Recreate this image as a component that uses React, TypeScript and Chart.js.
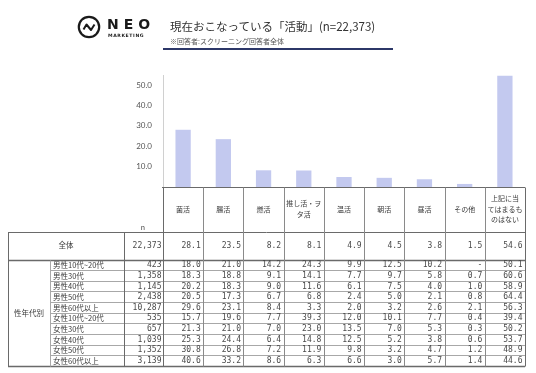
import React, { useEffect, useRef } from 'react';
import { Chart, registerables } from 'chart.js';
Chart.register(...registerables);

const categoryLabels: string[][] = [
  ['菌活'], ['腸活'], ['燃活'], ['推し活・ヲ', 'タ活'], ['温活'], ['朝活'], ['昼活'], ['その他'], ['上記に当', 'てはまるも', 'のはない'],
];
const totalLabel = '全体';
const totalN = 22373;
const totalValues = [28.1, 23.5, 8.2, 8.1, 4.9, 4.5, 3.8, 1.5, 54.6];
const groupLabel = '性年代別';
const rowLabels = ['男性10代~20代', '男性30代', '男性40代', '男性50代', '男性60代以上', '女性10代~20代', '女性30代', '女性40代', '女性50代', '女性60代以上'];
const rowN = [423, 1358, 1145, 2438, 10287, 535, 657, 1039, 1352, 3139];
const rowValues: (number | null)[][] = [
  [18.0, 21.0, 14.2, 24.3, 9.9, 12.5, 10.2, null, 50.1],
  [18.3, 18.8, 9.1, 14.1, 7.7, 9.7, 5.8, 0.7, 60.6],
  [20.2, 18.3, 9.0, 11.6, 6.1, 7.5, 4.0, 1.0, 58.9],
  [20.5, 17.3, 6.7, 6.8, 2.4, 5.0, 2.1, 0.8, 64.4],
  [29.6, 23.1, 8.4, 3.3, 2.0, 3.2, 2.6, 2.1, 56.3],
  [15.7, 19.6, 7.7, 39.3, 12.0, 10.1, 7.7, 0.4, 39.4],
  [21.3, 21.0, 7.0, 23.0, 13.5, 7.0, 5.3, 0.3, 50.2],
  [25.3, 24.4, 6.4, 14.8, 12.5, 5.2, 3.8, 0.6, 53.7],
  [30.8, 26.8, 7.2, 11.9, 9.8, 3.2, 4.7, 1.2, 48.9],
  [40.6, 33.2, 8.6, 6.3, 6.6, 3.0, 5.7, 1.4, 44.6],
];
const nHeader = 'n';
const titleText = '現在おこなっている「活動」(n=22,373)';
const subtitleText = '※回答者:スクリーニング回答者全体';

const FONT = '"Noto Sans CJK JP", "Noto Sans", sans-serif';
const NUMFONT = '"DejaVu Sans Mono", "Liberation Mono", monospace';
const fmtN = (n: number) => n.toLocaleString('en-US');
const fmtV = (v: number | null) => (v === null ? '-' : v.toFixed(1));

const tablePlugin = {
  id: 'tablePlugin',
  afterDraw(chart: any) {
    const ctx: CanvasRenderingContext2D = chart.ctx;
    const xs = chart.scales.x;
    const area = chart.chartArea;
    const nCat = categoryLabels.length;
    const colW = (area.right - area.left) / nCat;
    const edges: number[] = [];
    for (let i = 0; i < nCat; i++) edges.push(xs.getPixelForValue(i) - colW / 2);
    edges.push(xs.getPixelForValue(nCat - 1) + colW / 2);

    const tableLeft = 8;
    const groupRight = 50;
    const labelRight = 124;
    const headerTop = Math.round(area.bottom) + 0.5;
    const headerBot = headerTop + 44;
    const totalBot = headerBot + 28;
    const rowH = 10.65;
    const tableBot = totalBot + rowH * rowLabels.length;
    const right = edges[nCat];

    ctx.save();
    const line = (x1: number, y1: number, x2: number, y2: number, color: string, w = 1) => {
      ctx.beginPath();
      ctx.strokeStyle = color;
      ctx.lineWidth = w;
      ctx.moveTo(x1, y1);
      ctx.lineTo(x2, y2);
      ctx.stroke();
    };
    const dark = '#6a6a6a';
    const light = '#a8a8a8';
    const r = (v: number) => Math.round(v) + 0.5;

    line(edges[0] - 1, headerTop, right, headerTop, dark);
    line(tableLeft, r(headerBot), right, r(headerBot), dark);
    line(tableLeft, r(totalBot), right, r(totalBot), dark, 1.6);
    for (let i = 1; i < rowLabels.length; i++) {
      const y = r(totalBot + rowH * i);
      line(groupRight, y, right, y, light);
    }
    line(tableLeft, r(tableBot), right, r(tableBot), dark, 1.4);

    for (let i = 0; i <= nCat; i++) {
      const x = r(edges[i]);
      line(x, headerTop, x, r(tableBot), i === 0 || i === nCat ? dark : '#8a8a8a');
    }
    line(r(tableLeft), r(headerBot), r(tableLeft), r(tableBot), dark);
    line(r(labelRight), r(headerBot), r(labelRight), r(tableBot), dark);
    line(r(groupRight), r(totalBot), r(groupRight), r(tableBot), light);

    ctx.fillStyle = '#3a3a3a';
    ctx.textBaseline = 'middle';

    ctx.font = `7px ${FONT}`;
    ctx.textAlign = 'center';
    const headMid = (headerTop + headerBot) / 2 - 0.5;
    categoryLabels.forEach((lines, i) => {
      const cx = (edges[i] + edges[i + 1]) / 2;
      const lh = 10.5;
      const start = headMid - ((lines.length - 1) * lh) / 2;
      lines.forEach((t, k) => ctx.fillText(t, cx, start + k * lh));
    });
    ctx.fillText(nHeader, 143, headerBot - 4);

    const totMid = (headerBot + totalBot) / 2;
    ctx.font = `7.5px ${FONT}`;
    ctx.fillText(totalLabel, (tableLeft + labelRight) / 2, totMid);
    ctx.fillStyle = '#4a4a4a';
    ctx.font = `8px ${NUMFONT}`;
    ctx.textAlign = 'right';
    ctx.fillText(fmtN(totalN), edges[0] - 1.5, totMid);
    totalValues.forEach((v, i) => ctx.fillText(fmtV(v), edges[i + 1] - 2.5, totMid));

    rowLabels.forEach((lab, j) => {
      const y = totalBot + rowH * j + rowH / 2 + 0.3;
      ctx.fillStyle = '#3a3a3a';
      ctx.textAlign = 'left';
      ctx.font = `7.5px ${FONT}`;
      ctx.fillText(lab, groupRight + 3, y);
      ctx.fillStyle = '#4a4a4a';
      ctx.textAlign = 'right';
      ctx.font = `8px ${NUMFONT}`;
      ctx.fillText(fmtN(rowN[j]), edges[0] - 1.5, y);
      rowValues[j].forEach((v, i) => ctx.fillText(fmtV(v), edges[i + 1] - 2.5, y));
    });
    ctx.fillStyle = '#3a3a3a';
    ctx.textAlign = 'center';
    ctx.font = `7.5px ${FONT}`;
    ctx.fillText(groupLabel, (tableLeft + groupRight) / 2, (totalBot + tableBot) / 2);

    ctx.restore();
  },
};

export default function App() {
  const canvasRef = useRef<HTMLCanvasElement | null>(null);

  useEffect(() => {
    if (!canvasRef.current) return;
    const chart = new Chart(canvasRef.current, {
      type: 'bar',
      data: {
        labels: categoryLabels.map((l) => l.join('')),
        datasets: [
          {
            data: totalValues,
            backgroundColor: '#c3c9ef',
            barPercentage: 0.38,
            categoryPercentage: 1,
          },
        ],
      },
      options: {
        responsive: false,
        animation: false,
        layout: { padding: { top: 75, bottom: 186, left: 0, right: 11 } },
        plugins: { legend: { display: false }, tooltip: { enabled: false } },
        scales: {
          x: { display: false, offset: true },
          y: {
            min: 0,
            max: 55,
            ticks: {
              stepSize: 10,
              includeBounds: false,
              padding: 3,
              color: '#555',
              font: { size: 8, family: 'Lato, "DejaVu Sans", sans-serif' },
              callback: (v: any) => (Number(v) === 0 ? '' : Number(v).toFixed(1)),
            },
            grid: { display: false },
            border: { display: true, color: '#d0d0d0' },
            afterFit: (s: any) => {
              s.width = 163;
            },
          },
        },
      },
      plugins: [tablePlugin],
    });
    return () => chart.destroy();
  }, []);

  return (
    <div style={{ position: 'fixed', left: 0, top: 0, width: 536, height: 373, background: '#fff', overflow: 'hidden' }}>
      <canvas ref={canvasRef} width={536} height={373} style={{ position: 'absolute', left: 0, top: 0, display: 'block' }} />
      <svg style={{ position: 'absolute', left: 77, top: 15 }} width={26} height={26} viewBox="0 0 26 26">
        <circle cx={12} cy={12} r={10.2} fill="none" stroke="#1a1a1a" strokeWidth={2.2} />
        <path d="M6.5 14.5 L9.5 9.5 L14 15 L17.5 9.5" fill="none" stroke="#1a1a1a" strokeWidth={2} strokeLinejoin="round" />
      </svg>
      <div style={{ position: 'absolute', left: 107, top: 16, fontFamily: '"DejaVu Sans", sans-serif', fontWeight: 700, fontSize: 14, letterSpacing: 5, color: '#1a1a1a', lineHeight: '16px' }}>NEO</div>
      <div style={{ position: 'absolute', left: 108, top: 33, fontFamily: '"DejaVu Sans", sans-serif', fontWeight: 700, fontSize: 4.6, letterSpacing: 0.6, color: '#1a1a1a', lineHeight: '6px' }}>MARKETING</div>
      <div style={{ position: 'absolute', left: 170, top: 18, fontFamily: FONT, fontSize: 11.5, color: '#333', lineHeight: '16px', whiteSpace: 'nowrap' }}>{titleText}</div>
      <div style={{ position: 'absolute', left: 170, top: 36, fontFamily: FONT, fontSize: 7, color: '#555', lineHeight: '10px', whiteSpace: 'nowrap' }}>{subtitleText}</div>
      <div style={{ position: 'absolute', left: 163, top: 48, width: 230, height: 1.5, background: '#2c3768' }} />
    </div>
  );
}
